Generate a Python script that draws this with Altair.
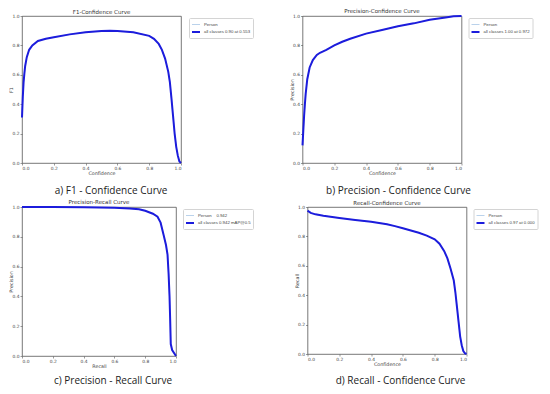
import altair as alt
import pandas as pd

# ---- data ----
f1_x = [0, 0.005, 0.01, 0.015, 0.02, 0.03, 0.045, 0.065, 0.1, 0.15, 0.2, 0.3, 0.4, 0.5, 0.553,
        0.6, 0.7, 0.8, 0.83, 0.86, 0.88, 0.9, 0.92, 0.93, 0.94, 0.95, 0.96, 0.97, 0.98, 0.99, 1.0]
f1_y = [0.31, 0.45, 0.55, 0.61, 0.66, 0.72, 0.77, 0.80, 0.83, 0.845, 0.855, 0.875, 0.89, 0.898, 0.90,
        0.898, 0.89, 0.865, 0.845, 0.81, 0.77, 0.71, 0.62, 0.55, 0.44, 0.32, 0.20, 0.11, 0.05, 0.01, 0.0]

p_x = [0, 0.005, 0.01, 0.015, 0.02, 0.03, 0.045, 0.065, 0.09, 0.11, 0.15, 0.2, 0.25, 0.3, 0.4,
       0.5, 0.6, 0.7, 0.8, 0.9, 0.95, 1.0]
p_y = [0.12, 0.22, 0.32, 0.40, 0.47, 0.57, 0.65, 0.70, 0.735, 0.75, 0.77, 0.80, 0.825, 0.845, 0.88,
       0.905, 0.93, 0.95, 0.975, 0.99, 0.998, 1.0]

pr_x = [0, 0.2, 0.4, 0.6, 0.7, 0.76, 0.8, 0.85, 0.88, 0.9, 0.92, 0.935, 0.945, 0.952, 0.958,
        0.962, 0.966, 0.975, 1.0]
pr_y = [1.0, 1.0, 0.998, 0.995, 0.99, 0.985, 0.975, 0.955, 0.935, 0.895, 0.81, 0.745, 0.68, 0.55, 0.40,
        0.25, 0.08, 0.04, 0.0]

r_x = [0, 0.02, 0.05, 0.1, 0.2, 0.3, 0.4, 0.5, 0.55, 0.6, 0.7, 0.75, 0.8, 0.83, 0.86, 0.88, 0.9,
       0.92, 0.93, 0.94, 0.95, 0.96, 0.97, 0.98, 0.99, 1.0]
r_y = [0.975, 0.96, 0.95, 0.94, 0.925, 0.912, 0.90, 0.883, 0.87, 0.855, 0.825, 0.805, 0.78, 0.75,
       0.70, 0.65, 0.58, 0.50, 0.42, 0.32, 0.22, 0.12, 0.06, 0.02, 0.005, 0.0]

titles = ["F1-Confidence Curve", "Precision-Confidence Curve", "Precision-Recall Curve",
          "Recall-Confidence Curve"]
x_titles = ["Confidence", "Confidence", "Recall", "Confidence"]
y_titles = ["F1", "Precision", "Precision", "Recall"]
person_labels = ["Person", "Person", "Person\u00a0\u00a0\u00a0\u00a00.942", "Person"]
all_labels = ["all classes 0.90 at 0.553", "all classes 1.00 at 0.972",
              "all classes 0.942 mAP@0.5", "all classes 0.97 at 0.000"]
captions = ["a) F1 - Confidence Curve", "b) Precision - Confidence Curve",
            "c) Precision - Recall Curve", "d) Recall - Confidence Curve"]
tick_values = [0.0, 0.2, 0.4, 0.6, 0.8, 1.0]

BLUE = "#1c1cdc"
PERSON = "#a8c6e6"
TXT = "DejaVu Sans"


def panel(i, xs, ys, w, h, lx, ly, cx, cy):
    df = pd.DataFrame({"x": xs, "y": ys})
    dom = [person_labels[i], all_labels[i]]
    leg = alt.Legend(
        title=None, orient="none", legendX=lx, legendY=ly,
        strokeColor="#d4d4d4", fillColor="white", padding=2, cornerRadius=1,
        labelFontSize=4.3, labelFont="Liberation Sans", labelColor="#444", labelOffset=3,
        symbolType="stroke", symbolSize=64, rowPadding=0,
    )
    color = alt.Color("series:N", scale=alt.Scale(domain=dom, range=[PERSON, BLUE]), legend=leg)
    sw = alt.StrokeWidth("series:N", scale=alt.Scale(domain=dom, range=[0.8, 2.0]), legend=leg)
    xenc = alt.X("x:Q", scale=alt.Scale(domain=[0, 1], nice=False),
                 axis=alt.Axis(values=tick_values, format=".1f", title=x_titles[i]))
    yenc = alt.Y("y:Q", scale=alt.Scale(domain=[0, 1], nice=False),
                 axis=alt.Axis(values=tick_values, format=".1f", title=y_titles[i], titleX=-8.5))
    person = alt.Chart(df.assign(series=person_labels[i])).mark_line().encode(
        x=xenc, y=yenc, color=color, strokeWidth=sw)
    allc = alt.Chart(df.assign(series=all_labels[i])).mark_line().encode(
        x=xenc, y=yenc, color=color, strokeWidth=sw)
    cap = alt.Chart(pd.DataFrame({"c": [captions[i]]})).mark_text(
        font="Open Sans", fontSize=10, color="#222", align="center", baseline="middle"
    ).encode(text="c:N", x=alt.value(cx), y=alt.value(cy))
    return alt.layer(person, allc, cap).properties(
        width=w, height=h,
        title=alt.TitleParams(titles[i], fontSize=5.5, font=TXT, fontWeight="normal",
                              color="#333", offset=-2, frame="group"))


a = panel(0, f1_x, f1_y, 159, 147, 167, 2, 89, 175)
b = panel(1, p_x, p_y, 159, 147, 166, 2, 96, 175)
c = panel(2, pr_x, pr_y, 154, 149, 161, 2, 91, 174)
d = panel(3, r_x, r_y, 159, 147, 166, 2, 93, 174)

res = dict(color="independent", strokeWidth="independent")
row1 = alt.hconcat(a, b, spacing=34.5).resolve_scale(**res).resolve_legend(**res)
row2 = alt.hconcat(c, d, spacing=39.5).resolve_scale(**res).resolve_legend(**res)

chart = alt.vconcat(row1, row2, spacing=2).resolve_scale(**res).resolve_legend(**res).properties(
    padding=0
).configure_view(
    stroke="#555", strokeWidth=0.8
).configure_axis(
    grid=False, domain=False, labelFontSize=4.4, labelFont=TXT, labelColor="#444",
    titleFontSize=4.8, titleFont=TXT, titleFontWeight="normal", titleColor="#444",
    tickSize=2, tickColor="#555", tickWidth=0.6, labelPadding=1, titlePadding=1.5,
)

chart.save("out.html", embed_options={"renderer": "svg", "actions": False})
